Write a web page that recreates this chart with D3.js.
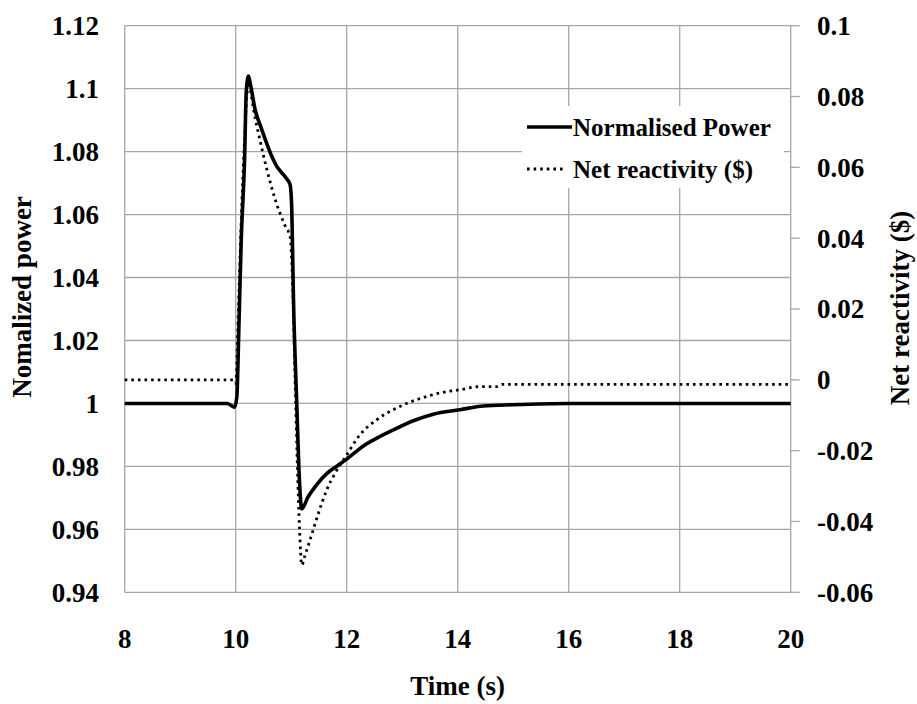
<!DOCTYPE html>
<html>
<head>
<meta charset="utf-8">
<script src="https://cdn.jsdelivr.net/npm/d3@7"></script>
<style>
  html, body { margin: 0; padding: 0; background: #fff; }
  svg { display: block; font-family: "Liberation Serif", "Times New Roman", serif; font-weight: bold; }
</style>
</head>
<body>
<svg id="chart" width="917" height="704"></svg>
<script>
// ---------------------------------------------------------------------------
// Data
// ---------------------------------------------------------------------------

// Normalised power (left axis)
const timeP = [8, 9.85, 9.93, 9.98, 10.02, 10.06, 10.1, 10.16, 10.19, 10.23, 10.27,
  10.35, 10.45, 10.55, 10.65, 10.74, 10.82, 10.9, 10.98, 11.01, 11.04, 11.1, 11.15,
  11.19, 11.3, 11.45, 11.64, 11.84, 12.0, 12.3, 12.6, 12.84, 13.2, 13.56, 14.04,
  14.46, 15.0, 16.0, 20];
const power = [1.0, 1.0, 0.9992, 0.9988, 1.002, 1.026, 1.052, 1.0775, 1.099, 1.104, 1.101,
  1.0933, 1.088, 1.083, 1.0785, 1.0753, 1.0735, 1.0718, 1.0695, 1.062, 1.034, 1.0, 0.975,
  0.9665, 0.9702, 0.974, 0.9777, 0.9803, 0.9823, 0.9865, 0.9895, 0.9916, 0.9945, 0.9966, 0.998,
  0.9992, 0.9996, 1.0, 1.0];

// Net reactivity in dollars (right axis)
const timeR = [8, 9.95, 10.0, 10.05, 10.1, 10.16, 10.2, 10.24, 10.27, 10.32, 10.44,
  10.56, 10.71, 10.89, 10.98, 11.03, 11.07, 11.15, 11.19, 11.25, 11.34, 11.49, 11.64,
  11.79, 12.0, 12.24, 12.54, 13.02, 13.44, 13.71, 14.04, 14.4, 14.7, 14.8, 20];
const reactivity = [0, 0, -0.001, 0.02, 0.045, 0.068, 0.08, 0.084, 0.0814, 0.0765, 0.0675,
  0.0595, 0.051, 0.0435, 0.0404, 0.025, 0.0, -0.042, -0.0523, -0.0495, -0.0452, -0.0377, -0.0311,
  -0.0264, -0.0212, -0.0155, -0.0113, -0.0071, -0.0047, -0.0036, -0.0028, -0.0019, -0.0019, -0.0013, -0.0013];

// Tick values
const xTicks = [8, 10, 12, 14, 16, 18, 20];
const yLeftTicks = [0.94, 0.96, 0.98, 1, 1.02, 1.04, 1.06, 1.08, 1.1, 1.12];
const yRightTicks = [-0.06, -0.04, -0.02, 0, 0.02, 0.04, 0.06, 0.08, 0.1];

const legendLabels = ["Normalised Power", "Net reactivity ($)"];

// ---------------------------------------------------------------------------
// Layout
// ---------------------------------------------------------------------------
const PL = 124.7, PR = 790.7, PT = 25.7, PB = 592.3;
const GRID = "#a6a6a6";
const TICK_FS = 27;

const svg = d3.select("#chart");

const x = d3.scaleLinear().domain([8, 20]).range([PL, PR]);
const yL = d3.scaleLinear().domain([0.94, 1.12]).range([PB, PT]);
const yR = d3.scaleLinear().domain([-0.06, 0.1]).range([PB, PT]);

// Gridlines
const grid = svg.append("g").attr("stroke", GRID).attr("stroke-width", 1.3);
grid.selectAll(".hg").data(yLeftTicks).join("line")
  .attr("x1", PL).attr("x2", PR)
  .attr("y1", d => yL(d)).attr("y2", d => yL(d));
grid.selectAll(".vg").data(xTicks).join("line")
  .attr("x1", d => x(d)).attr("x2", d => x(d))
  .attr("y1", PT).attr("y2", PB);

// Right-axis outer ticks
grid.selectAll(".rt").data(yRightTicks).join("line")
  .attr("x1", PR).attr("x2", PR + 9)
  .attr("y1", d => yR(d)).attr("y2", d => yR(d));

// Legend background hides gridlines behind it
svg.append("rect")
  .attr("x", 522).attr("y", 106).attr("width", 262).attr("height", 82)
  .attr("fill", "#fff");

// Series lines
const lineP = d3.line()
  .x((d, i) => x(timeP[i])).y(d => yL(d))
  .curve(d3.curveMonotoneX);
const lineR = d3.line()
  .x((d, i) => x(timeR[i])).y(d => yR(d))
  .curve(d3.curveMonotoneX);

svg.append("path")
  .attr("d", lineR(reactivity))
  .attr("fill", "none").attr("stroke", "#000")
  .attr("stroke-width", 2.8).attr("stroke-dasharray", "2.6,4");

svg.append("path")
  .attr("d", lineP(power))
  .attr("fill", "none").attr("stroke", "#000")
  .attr("stroke-width", 3.6).attr("stroke-linejoin", "round");

// Tick labels
const labels = svg.append("g").attr("font-size", TICK_FS).attr("fill", "#000");
labels.selectAll(".yl").data(yLeftTicks).join("text")
  .attr("x", 99).attr("y", d => yL(d)).attr("dy", "0.35em")
  .attr("text-anchor", "end")
  .text(d => String(+d.toFixed(2)));
labels.selectAll(".yr").data(yRightTicks).join("text")
  .attr("x", 817).attr("y", d => yR(d)).attr("dy", "0.35em")
  .attr("text-anchor", "start")
  .text(d => String(+d.toFixed(2)));
labels.selectAll(".xl").data(xTicks).join("text")
  .attr("x", d => x(d)).attr("y", 648)
  .attr("text-anchor", "middle")
  .text(d => d);

// Axis titles
svg.append("text")
  .attr("x", (PL + PR) / 2).attr("y", 695)
  .attr("text-anchor", "middle").attr("font-size", 27)
  .text("Time (s)");
svg.append("text")
  .attr("transform", "translate(31,297) rotate(-90)")
  .attr("text-anchor", "middle").attr("font-size", 27)
  .text("Nomalized power");
svg.append("text")
  .attr("transform", "translate(909,308) rotate(-90)")
  .attr("text-anchor", "middle").attr("font-size", 27)
  .text("Net reactivity ($)");

// Legend
const legend = svg.append("g").attr("font-size", 25);
const legendY = [127, 169];
legend.append("line")
  .attr("x1", 527).attr("x2", 572).attr("y1", legendY[0]).attr("y2", legendY[0])
  .attr("stroke", "#000").attr("stroke-width", 3.6);
legend.append("line")
  .attr("x1", 527).attr("x2", 565).attr("y1", legendY[1]).attr("y2", legendY[1])
  .attr("stroke", "#000").attr("stroke-width", 2.8).attr("stroke-dasharray", "2.6,4");
legend.selectAll(".lt").data(legendLabels).join("text")
  .attr("x", 573).attr("y", (d, i) => legendY[i]).attr("dy", "0.35em")
  .text(d => d);
</script>
</body>
</html>
